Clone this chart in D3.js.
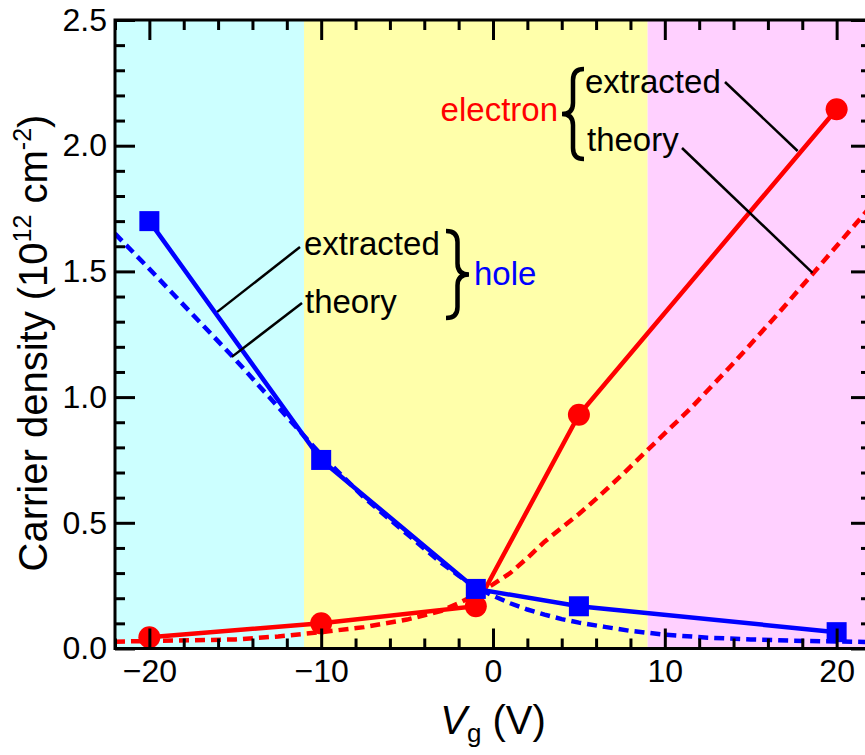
<!DOCTYPE html>
<html>
<head>
<meta charset="utf-8">
<script src="https://cdn.jsdelivr.net/npm/d3@7/dist/d3.min.js"></script>
<style>
  html, body { margin: 0; padding: 0; background: #fff; }
  svg text { font-family: "Liberation Sans", Arial, sans-serif; }
</style>
</head>
<body>
<svg id="chart" width="865" height="755"></svg>
<script>
// Gate-voltage sweep, carrier density in units of 1e12 cm^-2
const holeExtracted = [[-20, 1.70], [-10, 0.75], [-1, 0.237], [5, 0.168], [20, 0.065]];
const electronExtracted = [[-20, 0.045], [-10, 0.10], [-1, 0.168], [5, 0.93], [20, 2.145]];
const holeTheory = [
  [-22, 1.65], [-20, 1.51], [-17.5, 1.33], [-15, 1.15], [-12.5, 0.96], [-10, 0.77],
  [-7.5, 0.60], [-5, 0.455], [-3, 0.34], [-2, 0.29], [-1, 0.245], [0, 0.21], [1, 0.18],
  [2, 0.155], [3, 0.135], [4, 0.117], [5, 0.103], [6.5, 0.086], [8, 0.07], [10, 0.055],
  [12.5, 0.043], [15, 0.036], [17.5, 0.031], [20, 0.028], [22, 0.026]
];
const electronTheory = [
  [-22, 0.027], [-20, 0.03], [-17.5, 0.033], [-15, 0.036], [-12.5, 0.048], [-10, 0.065],
  [-7.5, 0.085], [-5, 0.115], [-3, 0.15], [-2, 0.18], [-1, 0.215], [0, 0.255], [1, 0.30],
  [2, 0.36], [3, 0.425], [4, 0.48], [5, 0.535], [6, 0.595], [7.5, 0.69], [9, 0.79],
  [11.5, 0.955], [14, 1.135], [16.5, 1.325], [18.6, 1.49], [21.5, 1.72], [22, 1.76]
];
// Gate-voltage regions shaded behind the curves
const regions = [[-22, -11, "#ccffff"], [-11, 9, "#ffffaa"], [9, 22, "#ffd0ff"]];
const xMajorTicks = [-20, -10, 0, 10, 20];
const xMinorTicks = d3.range(-22, 23, 2).filter(v => v % 10 !== 0);
const yMajorTicks = [0, 0.5, 1.0, 1.5, 2.0, 2.5];
const yMinorTicks = d3.range(0, 25).map(i => i / 10).filter((v, i) => i % 5 !== 0);

const svg = d3.select("#chart");
const plotLeft = 115, plotRight = 871, plotTop = 20, plotBottom = 648.5;
const x = d3.scaleLinear().domain([-22, 22]).range([plotLeft, plotRight]);
const y = d3.scaleLinear().domain([0, 2.5]).range([plotBottom, plotTop]);

const RED = "#ff0000", BLUE = "#0000ff";

// shaded bands
svg.append("g").selectAll("rect").data(regions).join("rect")
  .attr("x", d => x(d[0])).attr("y", plotTop)
  .attr("width", d => x(d[1]) - x(d[0])).attr("height", plotBottom - plotTop)
  .attr("fill", d => d[2]);

const line = d3.line().x(d => x(d[0])).y(d => y(d[1]));
svg.append("clipPath").attr("id", "plotClip")
  .append("rect").attr("x", plotLeft).attr("y", plotTop)
  .attr("width", plotRight - plotLeft).attr("height", plotBottom - plotTop);

const plot = svg.append("g").attr("clip-path", "url(#plotClip)");

// theory curves (dashed)
plot.append("path").datum(electronTheory).attr("d", line)
  .attr("fill", "none").attr("stroke", RED).attr("stroke-width", 4.5).attr("stroke-dasharray", "10,6");
plot.append("path").datum(holeTheory).attr("d", line)
  .attr("fill", "none").attr("stroke", BLUE).attr("stroke-width", 4.5).attr("stroke-dasharray", "10,6");

// extracted curves (solid with markers)
plot.append("path").datum(electronExtracted).attr("d", line)
  .attr("fill", "none").attr("stroke", RED).attr("stroke-width", 4.5);
plot.append("g").selectAll("circle").data(electronExtracted).join("circle")
  .attr("cx", d => x(d[0])).attr("cy", d => y(d[1])).attr("r", 11).attr("fill", RED);
plot.append("path").datum(holeExtracted).attr("d", line)
  .attr("fill", "none").attr("stroke", BLUE).attr("stroke-width", 4.5);
plot.append("g").selectAll("rect").data(holeExtracted).join("rect")
  .attr("x", d => x(d[0]) - 10).attr("y", d => y(d[1]) - 10)
  .attr("width", 20).attr("height", 20).attr("fill", BLUE);

// axes with inward ticks on all four sides
function styleAxis(g, labels) {
  g.select(".domain").remove();
  g.selectAll(".tick line").attr("stroke", "#000").attr("stroke-width", 3);
  if (!labels) g.selectAll(".tick text").remove();
  else g.selectAll(".tick text").attr("font-size", 32).attr("fill", "#000")
        .attr("font-family", "'Liberation Sans', Arial, sans-serif");
}
const yFmt = d3.format(".1f");
svg.append("g").attr("transform", `translate(0,${plotBottom})`)
  .call(d3.axisBottom(x).tickValues(xMajorTicks).tickSize(-20).tickPadding(11))
  .call(g => styleAxis(g, true));
svg.append("g").attr("transform", `translate(0,${plotBottom})`)
  .call(d3.axisBottom(x).tickValues(xMinorTicks).tickSize(-10))
  .call(g => styleAxis(g, false));
svg.append("g").attr("transform", `translate(0,${plotTop})`)
  .call(d3.axisTop(x).tickValues(xMajorTicks).tickSize(-20))
  .call(g => styleAxis(g, false));
svg.append("g").attr("transform", `translate(0,${plotTop})`)
  .call(d3.axisTop(x).tickValues(xMinorTicks).tickSize(-10))
  .call(g => styleAxis(g, false));
svg.append("g").attr("transform", `translate(${plotLeft},0)`)
  .call(d3.axisLeft(y).tickValues(yMajorTicks).tickSize(-20).tickPadding(8).tickFormat(yFmt))
  .call(g => styleAxis(g, true));
svg.append("g").attr("transform", `translate(${plotLeft},0)`)
  .call(d3.axisLeft(y).tickValues(yMinorTicks).tickSize(-10))
  .call(g => styleAxis(g, false));
svg.append("g").attr("transform", `translate(${plotRight},0)`)
  .call(d3.axisRight(y).tickValues(yMajorTicks).tickSize(-20))
  .call(g => styleAxis(g, false));
svg.append("g").attr("transform", `translate(${plotRight},0)`)
  .call(d3.axisRight(y).tickValues(yMinorTicks).tickSize(-10))
  .call(g => styleAxis(g, false));

// frame
svg.append("rect").attr("x", plotLeft).attr("y", plotTop)
  .attr("width", plotRight - plotLeft).attr("height", plotBottom - plotTop)
  .attr("fill", "none").attr("stroke", "#000").attr("stroke-width", 3);

// axis titles
const yTitle = svg.append("text")
  .attr("transform", "translate(47,343) rotate(-90)")
  .attr("text-anchor", "middle").attr("font-size", 40).attr("fill", "#000");
yTitle.append("tspan").text("Carrier density (10");
yTitle.append("tspan").attr("font-size", 25).attr("dy", -16).text("12");
yTitle.append("tspan").attr("dy", 16).text(" cm");
yTitle.append("tspan").attr("font-size", 25).attr("dy", -16).text("-2");
yTitle.append("tspan").attr("dy", 16).text(")");

const xTitle = svg.append("text")
  .attr("x", 493).attr("y", 734)
  .attr("text-anchor", "middle").attr("font-size", 40).attr("fill", "#000");
xTitle.append("tspan").attr("font-style", "italic").text("V");
xTitle.append("tspan").attr("font-size", 26).attr("dy", 8).text("g");
xTitle.append("tspan").attr("dy", -8).text(" (V)");

// annotations: leader lines from labels to curves
const leaders = [
  { from: [725, 82], to: [17.73, 1.979] },
  { from: [682, 148], to: [18.6, 1.494] },
  { from: [300, 247], to: [-16.05, 1.339] },
  { from: [302, 303], to: [-15.2, 1.16] }
];
svg.append("g").selectAll("line").data(leaders).join("line")
  .attr("x1", d => d.from[0]).attr("y1", d => d.from[1])
  .attr("x2", d => x(d.to[0])).attr("y2", d => y(d.to[1]))
  .attr("stroke", "#000").attr("stroke-width", 2.5);

function brace(xTip, xBack, yTop, yBot) {
  const xm = (xTip + xBack) / 2, ym = (yTop + yBot) / 2, q = 11;
  return `M${xBack},${yTop} Q${xm},${yTop} ${xm},${yTop + q} L${xm},${ym - q} ` +
         `Q${xm},${ym} ${xTip},${ym} Q${xm},${ym} ${xm},${ym + q} L${xm},${yBot - q} ` +
         `Q${xm},${yBot} ${xBack},${yBot}`;
}
svg.append("path").attr("d", brace(562, 584, 69, 159))
  .attr("fill", "none").attr("stroke", "#000").attr("stroke-width", 4.5);
svg.append("path").attr("d", brace(469, 446, 231, 318))
  .attr("fill", "none").attr("stroke", "#000").attr("stroke-width", 4.5);

const labels = [
  { t: "electron", x: 558, y: 121, c: RED, a: "end" },
  { t: "extracted", x: 585, y: 93, c: "#000", a: "start" },
  { t: "theory", x: 587, y: 151, c: "#000", a: "start" },
  { t: "extracted", x: 304, y: 255, c: "#000", a: "start" },
  { t: "theory", x: 305, y: 313, c: "#000", a: "start" },
  { t: "hole", x: 474, y: 285, c: BLUE, a: "start" }
];
svg.append("g").selectAll("text").data(labels).join("text")
  .attr("x", d => d.x).attr("y", d => d.y).attr("fill", d => d.c)
  .attr("text-anchor", d => d.a).attr("font-size", 33).text(d => d.t);
</script>
</body>
</html>
